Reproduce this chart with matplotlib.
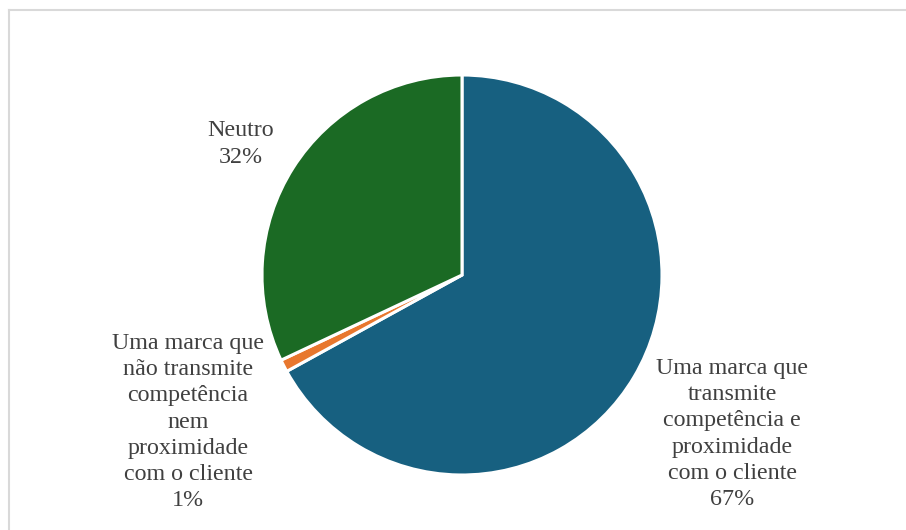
import matplotlib.pyplot as plt
from matplotlib.lines import Line2D

# Pie data
categories = [
    "Uma marca que\ntransmite\ncompetência e\nproximidade\ncom o cliente",
    "Uma marca que\nnão transmite\ncompetência\nnem\nproximidade\ncom o cliente",
    "Neutro",
]
shares = [67, 1, 32]
colors = ["#176080", "#E8772E", "#1B6A24"]

# label centres in figure fraction
label_pos = [(732 / 906, 1 - 434 / 530), (188 / 906, 1 - 422 / 530), (241 / 906, 1 - 144 / 530)]

TEXT_COLOR = "#404040"


def main():
    plt.rcParams['font.family'] = ['Liberation Serif', 'DejaVu Serif']

    fig = plt.figure(figsize=(9.06, 5.30), dpi=100)
    ax = fig.add_axes([262 / 906, 55 / 530, 400 / 906, 400 / 530])

    ax.pie(shares, colors=colors, startangle=90, counterclock=False,
           radius=1.0, wedgeprops=dict(edgecolor="white", linewidth=2.2))
    ax.set_xlim(-1, 1)
    ax.set_ylim(-1, 1)
    ax.set_aspect("equal")
    ax.axis("off")

    for name, value, (x, y) in zip(categories, shares, label_pos):
        fig.text(x, y, "%s\n%d%%" % (name, value), ha="center", va="center",
                 fontsize=17.3, color=TEXT_COLOR, linespacing=1.32)

    # chart frame: only top and left edges are visible
    fig.add_artist(Line2D([9 / 906, 9 / 906], [0, 1 - 10 / 530], transform=fig.transFigure,
                          color="#d9d9d9", linewidth=1.5))
    fig.add_artist(Line2D([9 / 906, 1], [1 - 10 / 530, 1 - 10 / 530], transform=fig.transFigure,
                          color="#d9d9d9", linewidth=1.5))

    fig.savefig("out.png", dpi=100, facecolor="white")
    plt.close(fig)


if __name__ == '__main__':
    main()
